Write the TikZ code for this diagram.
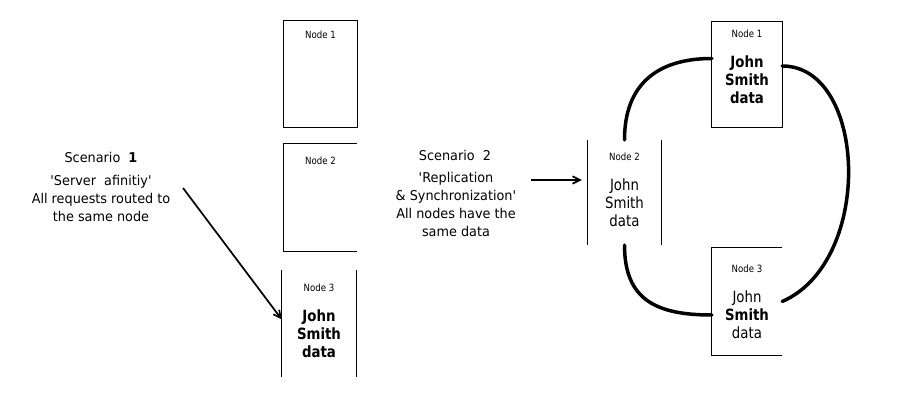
\documentclass[tikz,border=0pt]{standalone}
\usepackage{fontspec}
\setmainfont[FakeStretch=0.86]{DejaVu Sans}
\newfontfamily\storyfont[FakeStretch=0.95]{DejaVu Sans}
\usepackage{tikz}
\usetikzlibrary{arrows.meta,positioning}

\begin{document}
\begin{tikzpicture}[
x=1pt, y=-1pt,
server/.style={
rectangle,
inner sep=0pt,
minimum width=73pt,
minimum height=107pt
},
tag/.style={
font=\fontsize{10}{12}\selectfont,
inner sep=0pt
},
record/.style={
font=\fontsize{15.5}{18}\selectfont,
align=center,
inner sep=0pt
},
heading/.style={
font=\storyfont\fontsize{13.5}{18}\selectfont,
inner sep=0pt
},
story/.style={
font=\storyfont\fontsize{13.5}{18}\selectfont,
align=center,
anchor=north,
inner sep=0pt
},
wall/.style={
line width=1pt
},
push/.style={
-{Straight Barb[length=2.6mm,width=2.6mm]},
line width=1.7pt
},
sync/.style={
line width=3.5pt,
line cap=round
}
]

\useasboundingbox (0,0) rectangle (900,419);

% scenario 1: one node holds the data
\node[server] (l1) at (320.5,74) {};
\node[server] (l2) at (320.5,197.5) {};
\node[server, minimum width=74pt] (l3) at (319,323.5) {};

\draw[wall] (l1.north west) rectangle (l1.south east);
\draw[wall] (l2.north east) -- (l2.north west) -- (l2.south west) -- (l2.south east);
\draw[wall] (l3.north west) -- (l3.south west);
\draw[wall] (l3.north east) -- (l3.south east);

\node[tag, below=10pt of l1.north] (l1tag) {Node 1};
\node[tag, below=13pt of l2.north] (l2tag) {Node 2};
\node[tag, below=14pt of l3.north] (l3tag) {Node 3};
\node[record, below=18pt of l3tag] (l3data) {\textbf{John}\\\textbf{Smith}\\\textbf{data}};

\node[heading] (sc1) at (101,157) {Scenario\ \ \textbf{1}};
\node[story] (sc1txt) at (101,175) {\textquotesingle Server\ \ afinitiy\textquotesingle\\All requests routed to\\the same node};

\coordinate (from1) at (183,188);
\draw[push] (from1) -- ([yshift=4pt]l3.west);

% scenario 2: every node holds the data
\node[server, minimum height=105pt] (r2) at (624.5,192.5) {};
\node[server, minimum width=70pt, minimum height=105pt] (r1) at (747,74.5) {};
\node[server, minimum width=70pt] (r3) at (747,301.5) {};

\draw[wall] (r2.north west) -- (r2.south west);
\draw[wall] (r2.north east) -- (r2.south east);
\draw[wall] (r1.north west) rectangle (r1.south east);
\draw[wall] (r3.north east) -- (r3.north west) -- (r3.south west) -- (r3.south east);

\node[tag, below=13pt of r2.north] (r2tag) {Node 2};
\node[record, below=18pt of r2tag] (r2data) {John\\Smith\\data};
\node[tag, below=8pt of r1.north] (r1tag) {Node 1};
\node[record, below=18pt of r1tag] (r1data) {\textbf{John}\\\textbf{Smith}\\\textbf{data}};
\node[tag, below=17pt of r3.north] (r3tag) {Node 3};
\node[record, below=18pt of r3tag] (r3data) {John\\\textbf{Smith}\\data};

\node[heading] (sc2) at (455,155) {Scenario\ \ 2};
\node[story] (sc2txt) at (456,172) {\textquotesingle Replication\\\& Synchronization\textquotesingle\\All nodes have the\\same data};

\coordinate (from2) at (531,180);
\draw[push] (from2) -- ([xshift=-6pt,yshift=12.5pt]r2.west);

\draw[sync] (r2.north) .. controls +(0,-55) and +(-55,0) .. ([yshift=16pt]r1.west);
\draw[sync] ([yshift=8.5pt]r1.east) .. controls +(85,0) and +(92,-40) .. (r3.east);
\draw[sync] (r2.south) .. controls +(0,55) and +(-55,0) .. ([yshift=-13.5pt]r3.west);

\end{tikzpicture}
\end{document}
